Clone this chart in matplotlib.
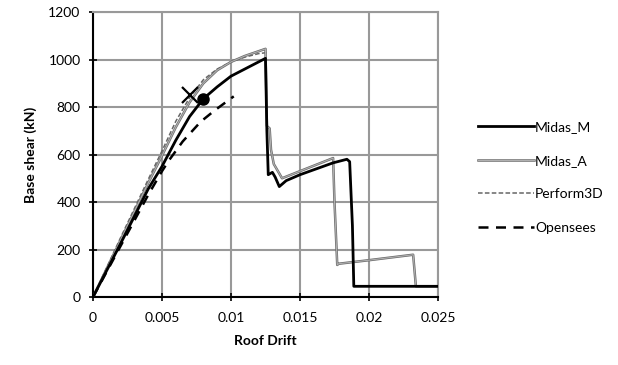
import matplotlib
matplotlib.use("Agg")
import matplotlib.pyplot as plt
import matplotlib.patheffects as pe

# pushover curves
midas_m_x = [0, 0.002, 0.004, 0.005, 0.006, 0.007, 0.008, 0.009, 0.010, 0.011, 0.012, 0.0125,
             0.0126, 0.0127, 0.0130, 0.0132, 0.0135, 0.014, 0.015, 0.0174, 0.0184, 0.0186, 0.0188, 0.0189, 0.025]
midas_m_y = [0, 225, 455, 550, 660, 760, 835, 885, 930, 960, 990, 1005,
             700, 515, 525, 505, 465, 490, 515, 565, 580, 570, 300, 45, 45]

midas_a_x = [0, 0.002, 0.004, 0.005, 0.006, 0.007, 0.008, 0.009, 0.010, 0.011, 0.012, 0.0125,
             0.0126, 0.0128, 0.0129, 0.0131, 0.0134, 0.0137, 0.015, 0.0174, 0.0175, 0.0177, 0.0178, 0.020, 0.0232, 0.0234, 0.025]
midas_a_y = [0, 240, 480, 595, 715, 820, 900, 955, 990, 1015, 1035, 1045,
             720, 710, 620, 560, 530, 500, 530, 585, 400, 135, 140, 155, 178, 45, 45]

perform_x = [0, 0.002, 0.004, 0.005, 0.006, 0.007, 0.008, 0.009, 0.010, 0.011, 0.012, 0.0127]
perform_y = [0, 250, 495, 615, 740, 840, 915, 960, 990, 1010, 1025, 1030]

opensees_x = [0, 0.002, 0.004, 0.005, 0.0055, 0.0065, 0.0078, 0.0088, 0.0102]
opensees_y = [0, 215, 430, 530, 575, 655, 738, 785, 845]

cross_pt = (0.0070, 850)
dot_pt = (0.0080, 835)

x_ticks = [0, 0.005, 0.01, 0.015, 0.02, 0.025]
x_labels = ["0", "0.005", "0.01", "0.015", "0.02", "0.025"]
y_ticks = [0, 200, 400, 600, 800, 1000, 1200]

plt.rcParams['font.family'] = ['Lato', 'DejaVu Sans']

fig = plt.figure(figsize=(6.18, 3.65), dpi=100)
ax = fig.add_axes([0.1505, 0.1863, 0.5582, 0.7807])

ax.plot(midas_m_x, midas_m_y, color='black', lw=2.0, label='Midas_M', zorder=5)
ax.plot(midas_a_x, midas_a_y, color='#b0b0b0', lw=0.8, label='Midas_A', zorder=4,
        path_effects=[pe.Stroke(linewidth=1.8, foreground='#6a6a6a'), pe.Normal()])
ax.plot(perform_x, perform_y, color='#666666', lw=1.1, ls=(0, (3, 1.5)), label='Perform3D', zorder=3)
ax.plot(opensees_x, opensees_y, color='black', lw=1.8, ls=(0, (4, 3)), label='Opensees', zorder=3)

ax.plot(*cross_pt, marker='x', ms=11, mew=1.6, color='black', zorder=6)
ax.plot(*dot_pt, marker='o', ms=8, color='black', zorder=6)

ax.set_xlim(0, 0.025)
ax.set_ylim(0, 1200)
ax.set_xticks(x_ticks)
ax.set_xticklabels(x_labels)
ax.set_yticks(y_ticks)
ax.grid(True, color='#999999', lw=1.5)
ax.set_axisbelow(True)

for s in ['top', 'right']:
    ax.spines[s].set_color('#999999')
    ax.spines[s].set_linewidth(1.5)
for s in ['left', 'bottom']:
    ax.spines[s].set_color('black')
    ax.spines[s].set_linewidth(1.5)

ax.tick_params(direction='inout', length=6, width=1.2, colors='black', labelsize=10, pad=6)
ax.tick_params(axis='x', pad=8)

ax.set_xlabel('Roof Drift', fontsize=10, fontweight='bold', labelpad=8)
ax.set_ylabel('Base shear (kN)', fontsize=10, fontweight='bold', labelpad=8)

leg = ax.legend(loc='center left', bbox_to_anchor=(1.08, 0.42), frameon=False,
                fontsize=10, handlelength=4.0, handletextpad=0.1, labelspacing=1.55)

fig.savefig('out.png', dpi=100)
